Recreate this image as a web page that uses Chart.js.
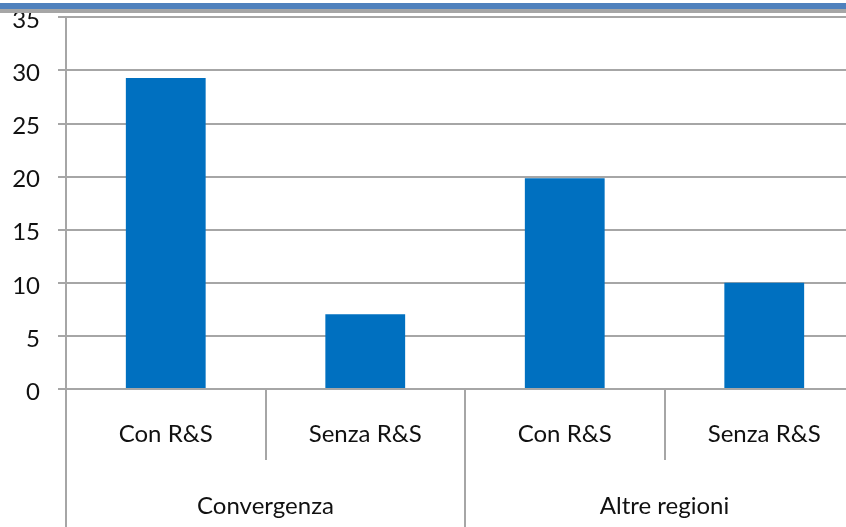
<!DOCTYPE html>
<html>
<head>
<meta charset="utf-8">
<script src="https://cdn.jsdelivr.net/npm/chart.js@4/dist/chart.umd.min.js"></script>
<style>
    html, body { margin: 0; padding: 0; background: #fff; overflow: hidden; }
    #wrap { position: relative; width: 846px; height: 527px; overflow: hidden; }
    #chart { position: absolute; left: 0; top: -15px; }
    .band-blue { position: absolute; left: 0; top: 3px; width: 846px; height: 6px; background: #4f81bd; }
    .band-grey { position: absolute; left: 0; top: 9px; width: 846px; height: 4px; background: #a6a6a6; }
</style>
</head>
<body>
<div id="wrap">
    <canvas id="chart" width="864" height="542"></canvas>
    <div class="band-blue"></div>
    <div class="band-grey"></div>
</div>
<script>
// Chart data
const subLabels = ['Con R&S', 'Senza R&S', 'Con R&S', 'Senza R&S'];
const groupLabels = ['Convergenza', 'Altre regioni'];
const values = [29.3, 7.05, 19.85, 10];
const yTicks = [0, 5, 10, 15, 20, 25, 30, 35];

const COLORS = {
    bar: '#0070c0',
    grid: '#a6a6a6',
    text: '#111111'
};

const FONT = { family: 'Lato, "Open Sans", sans-serif', size: 24 };

const ctx = document.getElementById('chart').getContext('2d');
new Chart(ctx, {
    type: 'bar',
    data: {
        labels: subLabels,
        datasets: [{
            data: values,
            backgroundColor: COLORS.bar,
            borderWidth: 0,
            barPercentage: 0.4,
            categoryPercentage: 1,
            xAxisID: 'x',
            yAxisID: 'y'
        }]
    },
    options: {
        responsive: false,
        devicePixelRatio: 1,
        animation: false,
        layout: { padding: { top: 3, left: 0, right: 0, bottom: 0 } },
        plugins: { legend: { display: false }, tooltip: { enabled: false } },
        scales: {
            y: {
                min: 0,
                max: 35,
                afterBuildTicks: (scale) => {
                    scale.ticks = yTicks.map((v) => ({ value: v }));
                },
                afterFit: (scale) => { scale.width = 66; },
                border: { color: COLORS.grid, width: 2 },
                grid: { color: COLORS.grid, lineWidth: 2, tickLength: 8 },
                ticks: { color: COLORS.text, font: FONT, padding: 18, labelOffset: 3 }
            },
            x: {
                position: 'bottom',
                offset: true,
                afterFit: (scale) => { scale.height = 71; },
                border: { color: COLORS.grid, width: 2 },
                grid: {
                    offset: true,
                    drawOnChartArea: false,
                    color: COLORS.grid,
                    lineWidth: 2,
                    tickLength: 71
                },
                ticks: { color: COLORS.text, font: FONT, padding: -40, maxRotation: 0 }
            },
            x2: {
                type: 'category',
                position: 'bottom',
                labels: groupLabels,
                offset: true,
                afterFit: (scale) => { scale.height = 67; },
                border: { display: false },
                grid: {
                    offset: true,
                    drawOnChartArea: false,
                    color: COLORS.grid,
                    lineWidth: 2,
                    tickLength: 67
                },
                ticks: { color: COLORS.text, font: FONT, padding: -35, maxRotation: 0 }
            }
        }
    }
});
</script>
</body>
</html>
